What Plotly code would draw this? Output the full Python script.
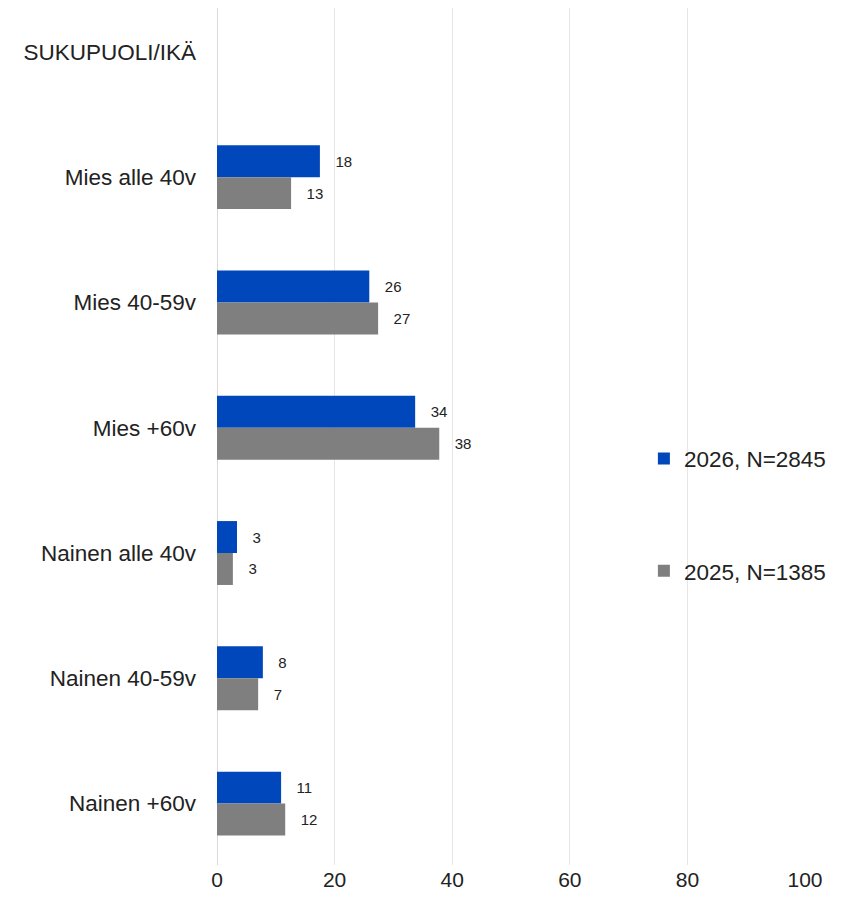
import plotly.graph_objects as go

# categories, top to bottom (first one is the header row with no bars)
categories = ["SUKUPUOLI/IKÄ", "Mies alle 40v", "Mies 40-59v", "Mies +60v",
              "Nainen alle 40v", "Nainen 40-59v", "Nainen +60v"]
values_2026 = [None, 17.5, 25.9, 33.7, 3.4, 7.8, 10.9]
values_2025 = [None, 12.6, 27.4, 37.8, 2.7, 7.0, 11.6]
name_2026 = "2026, N=2845"
name_2025 = "2025, N=1385"
x_ticks = [0, 20, 40, 60, 80, 100]

BLUE = "#0047BB"
GRAY = "#7F7F7F"
FONT = "Liberation Sans, Arial, sans-serif"


def labels(vals):
    # rounded values shown next to the bars, nudged right with spaces
    return ["" if v is None else "   " + str(int(round(v))) for v in vals]


fig = go.Figure()
for name, vals, color in [(name_2026, values_2026, BLUE), (name_2025, values_2025, GRAY)]:
    fig.add_trace(go.Bar(
        x=vals, y=categories, orientation="h", name=name, legendgroup=name,
        marker=dict(color=color, line=dict(width=0)),
        text=labels(vals), textposition="outside", cliponaxis=False,
        textfont=dict(size=15, color="#222222", family=FONT),
        hoverinfo="x+name",
    ))

fig.update_layout(
    width=837, height=908,
    margin=dict(l=209, r=40, t=0, b=51),
    paper_bgcolor="white", plot_bgcolor="white",
    barmode="group", bargap=0.49, bargroupgap=0,
    font=dict(family=FONT, size=21, color="#222222"),
    legend=dict(x=0.726, y=0.499, xanchor="left", yanchor="top",
                traceorder="grouped", tracegroupgap=80,
                bgcolor="rgba(0,0,0,0)", font=dict(size=22.5), itemwidth=30),
)
fig.update_xaxes(range=[0, 100], tickvals=x_ticks, showgrid=True, gridcolor="#E6E6E6",
                 gridwidth=1, zeroline=True, zerolinecolor="#D9D9D9", zerolinewidth=1,
                 showline=False, ticks="", tickfont=dict(size=21))
fig.update_yaxes(type="category", categoryorder="array", categoryarray=categories,
                 range=[6.49, -0.35], showgrid=False, zeroline=False, showline=False,
                 ticks="", ticklabelstandoff=20, tickfont=dict(size=22.5))

fig.write_html("out.html")
